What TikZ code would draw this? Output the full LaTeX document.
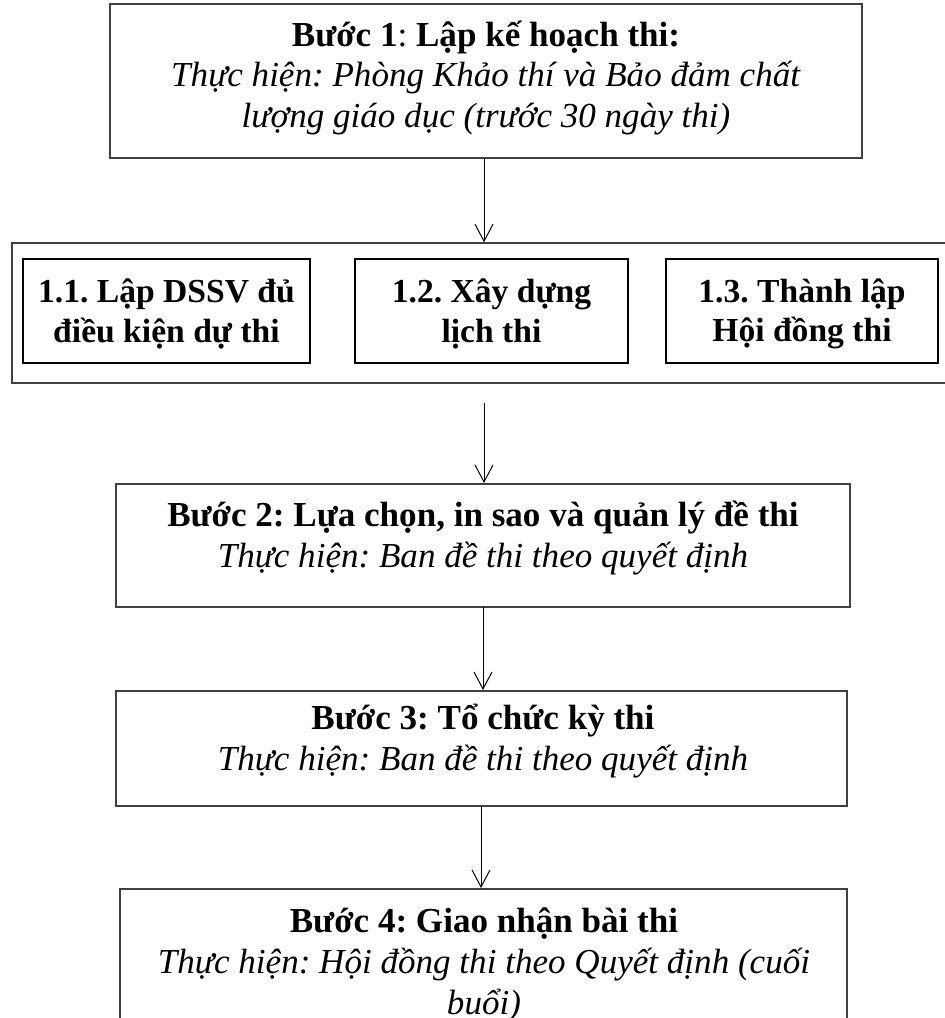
\documentclass[tikz,border=0pt]{standalone}
\usepackage{fontspec}
\setmainfont{Liberation Serif}
\usetikzlibrary{arrows.meta,fit}
\definecolor{boxgray}{RGB}{64,64,64}
\frenchspacing
\begin{document}
\begin{tikzpicture}[x=0.75pt,y=-0.75pt,
  box/.style={draw=boxgray, line width=1.5pt, inner sep=0pt},
  outerbox/.style={draw=boxgray, line width=1.1pt, inner sep=0pt},
  innerbox/.style={draw=black, line width=2.2pt, inner sep=0pt},
  txt/.style={align=center, inner sep=0pt, font=\fontsize{26.3}{30.5}\selectfont},
  subtxt/.style={align=center, inner sep=0pt, font=\fontsize{25.2}{29.5}\selectfont},
  arr/.style={draw=black, line width=0.75pt, -{Straight Barb[length=12.75pt,width=13.5pt,line width=0.75pt]}}]
\useasboundingbox (0,0) rectangle (945,1018);
% boxes
\node[box, fit={(110,4) (862,158)}] (b1) {};
\node[outerbox, fit={(12,243) (950,383)}] (outer) {};
\node[innerbox, fit={(23,259) (310,363)}] (s1) {};
\node[innerbox, fit={(355,259) (628,363)}] (s2) {};
\node[innerbox, fit={(666,259) (938,363)}] (s3) {};
\node[box, fit={(116,484) (850,607)}] (b2) {};
\node[box, fit={(116,691) (847,806)}] (b3) {};
\node[box, fit={(120,889) (847,1040)}] (b4) {};
% texts
\node[txt] (t1) at (486,78) {\textbf{Bước 1}: \textbf{Lập kế hoạch thi:}\\ \textit{Thực hiện: Phòng Khảo thí và Bảo đảm chất}\\ \textit{lượng giáo dục (trước 30 ngày thi)}};
\node[subtxt] (ts1) at (166.5,314) {\textbf{1.1. Lập DSSV đủ}\\ \textbf{điều kiện dự thi}};
\node[subtxt] (ts2) at (491.5,314) {\textbf{1.2. Xây dựng}\\ \textbf{lịch thi}};
\node[subtxt] (ts3) at (802,314) {\textbf{1.3. Thành lập}\\ \textbf{Hội đồng thi}};
\node[txt] (t2) at (483,538) {\textbf{Bước 2: Lựa chọn, in sao và quản lý đề thi}\\ \textit{Thực hiện: Ban đề thi theo quyết định}};
\node[txt] (t3) at (483,741) {\textbf{Bước 3: Tổ chức kỳ thi}\\ \textit{Thực hiện: Ban đề thi theo quyết định}};
\node[txt] (t4) at (484,965) {\textbf{Bước 4: Giao nhận bài thi}\\ \textit{Thực hiện: Hội đồng thi theo Quyết định (cuối}\\ \textit{buổi)}};
% connectors
\coordinate (a1) at (484,158);
\coordinate (a2) at (484,403);
\coordinate (a3) at (483,607);
\coordinate (a4) at (481,806);
\draw[arr] (a1) -- (a1 |- outer.north);
\draw[arr] (a2) -- (a2 |- b2.north);
\draw[arr] (a3) -- (a3 |- b3.north);
\draw[arr] (a4) -- (a4 |- b4.north);
\end{tikzpicture}
\end{document}
